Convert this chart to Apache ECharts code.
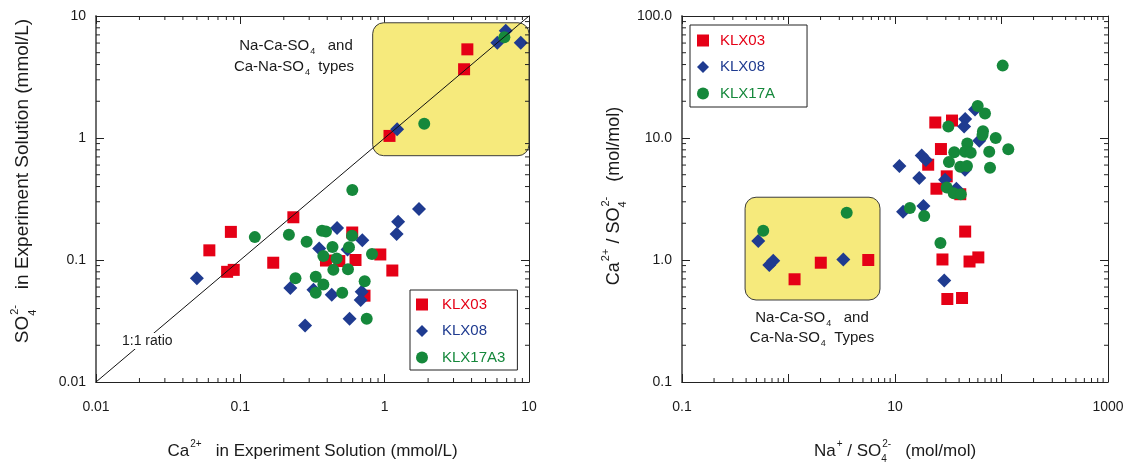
<!DOCTYPE html>
<html>
<head>
<meta charset="utf-8">
<script src="https://cdn.jsdelivr.net/npm/echarts@6/dist/echarts.min.js"></script>
<style>
  html, body { margin: 0; padding: 0; background: #ffffff; }
  #chart { width: 1131px; height: 463px; }
</style>
</head>
<body>
<div id="chart"></div>
<script>
// ---- Left panel: Ca2+ vs SO4 2- in experiment solution (mmol/L) ----
const klx03Ca  = [0.061, 0.086, 0.081, 0.090, 0.169, 0.233, 0.596, 0.392, 0.485, 0.628, 0.933, 1.13, 0.725, 1.08, 3.74, 3.55];
const klx03SO4 = [0.120, 0.170, 0.080, 0.083, 0.095, 0.224, 0.168, 0.099, 0.098, 0.100, 0.111, 0.082, 0.051, 1.04, 5.33, 3.66];

const klx08Ca  = [0.050, 0.222, 0.281, 0.468, 0.352, 0.321, 0.430, 0.571, 0.700, 0.553, 0.693, 0.682, 1.24, 1.21, 1.73, 1.22, 6.03, 6.90, 8.77];
const klx08SO4 = [0.071, 0.059, 0.029, 0.183, 0.124, 0.057, 0.052, 0.033, 0.145, 0.122, 0.055, 0.047, 0.206, 0.163, 0.262, 1.18, 6.04, 7.58, 6.04];

const klx17a3Ca  = [0.597, 0.126, 0.217, 0.288, 0.368, 0.392, 0.594, 0.435, 0.566, 0.376, 0.465, 0.441, 0.557, 0.817, 0.241, 0.333, 0.376, 0.333, 0.508, 0.727, 0.751, 1.88, 6.75];
const klx17a3SO4 = [0.375, 0.154, 0.161, 0.141, 0.174, 0.171, 0.158, 0.128, 0.127, 0.108, 0.103, 0.083, 0.084, 0.112, 0.071, 0.073, 0.063, 0.054, 0.054, 0.067, 0.033, 1.31, 6.69];

// ---- Right panel: Na+/SO4 2- vs Ca2+/SO4 2- (mol/mol) ----
const klx03NaRatio = [23.9, 34.3, 27.0, 20.5, 30.6, 24.5, 41.0, 45.6, 27.9, 50.1, 60.6, 31.0, 42.6, 1.14, 2.01, 5.61];
const klx03CaRatio = [13.4, 13.9, 8.12, 6.04, 4.85, 3.84, 3.46, 1.71, 1.01, 0.972, 1.05, 0.479, 0.488, 0.695, 0.95, 1.0];

const klx08NaRatio = [56.4, 45.6, 44.6, 61.8, 11.0, 17.8, 19.5, 16.9, 29.5, 37.7, 45.4, 11.9, 18.5, 29.0, 0.520, 0.660, 0.719, 3.27];
const klx08CaRatio = [17.1, 14.3, 12.4, 9.5, 5.89, 7.19, 6.60, 4.70, 4.55, 3.84, 5.50, 2.49, 2.77, 0.679, 1.43, 0.910, 0.987, 1.01];

const klx17aNaRatio = [102.6, 59.8, 70.0, 31.7, 67.0, 66.3, 88.2, 47.7, 36.0, 45.4, 51.4, 76.7, 115.8, 32.1, 41.0, 47.4, 78.0, 30.6, 35.6, 41.5, 13.8, 18.8, 26.7, 0.579, 3.52];
const klx17aCaRatio = [39.2, 18.3, 15.9, 12.4, 11.35, 10.6, 10.0, 9.02, 7.65, 7.72, 7.58, 7.71, 8.08, 6.36, 5.82, 5.89, 5.71, 3.93, 3.52, 3.46, 2.67, 2.29, 1.38, 1.74, 2.44];

// 1:1 reference line and the Na-Ca-SO4 / Ca-Na-SO4 type regions (data space: x0, y0, x1, y1)
const oneToOne = [[0.01, 0.01], [10, 10]];
const typeRegionLeft  = [0.826, 0.716, 10, 8.8];
const typeRegionRight = [0.391, 0.47, 7.23, 3.27];

// Tick labels, indexed by decade exponent from the axis minimum
const leftXLabels  = ['0.01', '0.1', '1', '10'];
const leftYLabels  = ['0.01', '0.1', '1', '10'];
const rightXLabels = ['0.1', '', '10', '', '1000'];
const rightYLabels = ['0.1', '1.0', '10.0', '100.0'];
const minorSteps = [2, 3, 4, 5, 6, 7, 8, 9];

const FONT = '"Liberation Sans", Arial, Helvetica, sans-serif';
const RED = '#e50016', BLUE = '#1f3b90', GREEN = '#15883b';
const INK = '#1a1a1a';

const zip = (xs, ys) => xs.map((x, i) => [x, ys[i]]);

// text measuring for composed chemical-formula titles
const mctx = document.createElement('canvas').getContext('2d');
function tw(t, size) { mctx.font = size + 'px ' + FONT; return mctx.measureText(t).width; }
function piece(t, x, y, size, extra) {
  return Object.assign({
    type: 'text', x: x, y: y, z: 100,
    style: { text: t, font: size + 'px ' + FONT, fill: INK,
             align: 'left', verticalAlign: 'middle', textAlign: 'left', textVerticalAlign: 'middle' }
  }, extra || {});
}
// parts: plain strings, ['sup', t], ['sub', t], ['both', sub, sup]
function formula(parts, size, cx, cy, rotation) {
  const small = Math.round(size * 0.6);
  const kids = [];
  let x = 0;
  parts.forEach(p => {
    if (typeof p === 'string') { kids.push(piece(p, x, 0, size)); x += tw(p, size); }
    else if (p[0] === 'sup') { kids.push(piece(p[1], x + 1, -size * 0.42, small)); x += tw(p[1], small) + 1; }
    else if (p[0] === 'sub') { kids.push(piece(p[1], x + 1, size * 0.4, small)); x += tw(p[1], small) + 1; }
    else {
      kids.push(piece(p[1], x, size * 0.5, small));
      kids.push(piece(p[2], x + 1, -size * 0.42, small));
      x += Math.max(tw(p[1], small), tw(p[2], small) + 1);
    }
  });
  kids.forEach(k => { k.x -= x / 2; });
  return { type: 'group', x: cx, y: cy, rotation: rotation || 0, z: 100, children: kids };
}

function labeler(labels, e0) {
  return v => { const s = labels[Math.round(Math.log10(v)) - e0]; return s == null ? '' : s; };
}

function logAxis(gridIndex, position, min, max, labels) {
  const vertical = position === 'left' || position === 'right';
  return {
    type: 'log', logBase: 10, gridIndex: gridIndex, position: position, min: min, max: max,
    axisLine: { show: true, onZero: false,
      lineStyle: position === 'left' ? { color: '#6e6e6e', width: 2 } : { color: '#222', width: 1 } },
    axisTick: { show: true, inside: true, length: 8, lineStyle: { color: '#222', width: 1 } },
    minorTick: { show: false },
    splitLine: { show: false },
    axisLabel: labels ? {
      show: true, formatter: labeler(labels, Math.round(Math.log10(min))),
      fontFamily: FONT, fontSize: 14, color: INK, margin: vertical ? 10 : 18
    } : { show: false }
  };
}

// minor ticks (2..9 within each decade) drawn on all four frame sides
function minorTickData(xMin, xMax, yMin, yMax) {
  const out = [];
  const e = v => Math.round(Math.log10(v));
  for (let k = e(xMin); k < e(xMax); k++) minorSteps.forEach(m => {
    const v = m * Math.pow(10, k); out.push([v, yMin, 0], [v, yMax, 1]);
  });
  for (let k = e(yMin); k < e(yMax); k++) minorSteps.forEach(m => {
    const v = m * Math.pow(10, k); out.push([xMin, v, 2], [xMax, v, 3]);
  });
  return out;
}
function renderMinorTick(params, api) {
  const p = api.coord([api.value(0), api.value(1)]);
  const L = 4;
  const d = [[0, -L], [0, L], [L, 0], [-L, 0]][api.value(2)];
  return { type: 'line', shape: { x1: p[0], y1: p[1], x2: p[0] + d[0], y2: p[1] + d[1] },
           style: { stroke: '#222', lineWidth: 1 } };
}
function renderRegion(params, api) {
  const a = api.coord([api.value(0), api.value(1)]);
  const b = api.coord([api.value(2), api.value(3)]);
  return { type: 'rect',
           shape: { x: a[0], y: b[1], width: b[0] - a[0], height: a[1] - b[1], r: 11 },
           style: { fill: '#f6ea7c', stroke: '#3c3c3c', lineWidth: 1 } };
}

function scatter(name, data, symbol, size, color, xi, yi) {
  return { type: 'scatter', name: name, data: data, symbol: symbol, symbolSize: size,
           xAxisIndex: xi, yAxisIndex: yi, z: 3, silent: true,
           itemStyle: { color: color, opacity: 1 } };
}

function legend(left, top, names, colors, textGap, padding) {
  return {
    orient: 'vertical', left: left, top: top, selectedMode: false,
    itemWidth: 12, itemHeight: 12, itemGap: 11.5, padding: padding,
    borderColor: '#222', borderWidth: 1, backgroundColor: '#fff',
    data: names.map((n, i) => ({ name: n, textStyle: {
      color: colors[i], fontSize: 15, fontFamily: FONT, padding: [0, 0, 0, textGap] } }))
  };
}

const chart = echarts.init(document.getElementById('chart'), null, { renderer: 'canvas' });

chart.setOption({
  animation: false,
  backgroundColor: '#ffffff',
  grid: [
    { left: 96, top: 16, width: 433, height: 366 },
    { left: 682, top: 16, width: 426, height: 366 }
  ],
  xAxis: [
    logAxis(0, 'bottom', 0.01, 10, leftXLabels),
    logAxis(0, 'top', 0.01, 10, null),
    logAxis(1, 'bottom', 0.1, 1000, rightXLabels),
    logAxis(1, 'top', 0.1, 1000, null)
  ],
  yAxis: [
    logAxis(0, 'left', 0.01, 10, leftYLabels),
    logAxis(0, 'right', 0.01, 10, null),
    logAxis(1, 'left', 0.1, 100, rightYLabels),
    logAxis(1, 'right', 0.1, 100, null)
  ],
  legend: [
    legend(410, 290, ['KLX03', 'KLX08', 'KLX17A3'], [RED, BLUE, GREEN], 9, [7, 12, 5, 6]),
    legend(690, 25, ['KLX03', 'KLX08', 'KLX17A'], [RED, BLUE, GREEN], 6, [8, 32, 6, 7])
  ],
  series: [
    { type: 'custom', name: 'regionL', xAxisIndex: 0, yAxisIndex: 0, z: 1, silent: true,
      data: [typeRegionLeft], renderItem: renderRegion },
    { type: 'custom', name: 'regionR', xAxisIndex: 2, yAxisIndex: 2, z: 1, silent: true,
      data: [typeRegionRight], renderItem: renderRegion },

    scatter('KLX03', zip(klx03Ca, klx03SO4), 'rect', 12, RED, 0, 0),
    scatter('KLX08', zip(klx08Ca, klx08SO4), 'diamond', 14, BLUE, 0, 0),
    scatter('KLX17A3', zip(klx17a3Ca, klx17a3SO4), 'circle', 12, GREEN, 0, 0),

    scatter('KLX03', zip(klx03NaRatio, klx03CaRatio), 'rect', 12, RED, 2, 2),
    scatter('KLX08', zip(klx08NaRatio, klx08CaRatio), 'diamond', 14, BLUE, 2, 2),
    scatter('KLX17A', zip(klx17aNaRatio, klx17aCaRatio), 'circle', 12, GREEN, 2, 2),

    { type: 'line', name: '1:1', xAxisIndex: 0, yAxisIndex: 0, z: 4, silent: true,
      data: oneToOne, symbol: 'none', lineStyle: { color: '#111', width: 1 } },

    { type: 'custom', name: 'minorL', xAxisIndex: 0, yAxisIndex: 0, z: 5, silent: true,
      data: minorTickData(0.01, 10, 0.01, 10), renderItem: renderMinorTick },
    { type: 'custom', name: 'minorR', xAxisIndex: 2, yAxisIndex: 2, z: 5, silent: true,
      data: minorTickData(0.1, 1000, 0.1, 100), renderItem: renderMinorTick }
  ],
  graphic: [
    // axis titles
    formula(['Ca', ['sup', '2+'], '   in Experiment Solution (mmol/L)'], 17, 312.5, 451, 0),
    formula(['SO', ['both', '4', '2-'], '   in Experiment Solution (mmol/L)'], 19, 23, 181, Math.PI / 2),
    formula(['Na', ['sup', '+'], ' / SO', ['both', '4', '2-'], '   (mol/mol)'], 17, 895, 451, 0),
    formula(['Ca', ['sup', '2+'], ' / SO', ['both', '4', '2-'], '   (mol/mol)'], 18, 614, 196, Math.PI / 2),
    // region captions
    formula(['Na-Ca-SO', ['sub', '4'], '   and'], 15, 296, 46, 0),
    formula(['Ca-Na-SO', ['sub', '4'], '  types'], 15, 294, 67, 0),
    formula(['Na-Ca-SO', ['sub', '4'], '   and'], 15, 812, 318, 0),
    formula(['Ca-Na-SO', ['sub', '4'], '  Types'], 15, 812, 338, 0),
    // 1:1 line caption
    piece('1:1 ratio', 121, 341, 14, { style: { text: '1:1 ratio', font: '14px ' + FONT, fill: INK,
      align: 'left', verticalAlign: 'middle', textAlign: 'left', textVerticalAlign: 'middle',
      backgroundColor: '#ffffff', padding: [1, 1, 1, 1] } })
  ]
});
</script>
</body>
</html>
